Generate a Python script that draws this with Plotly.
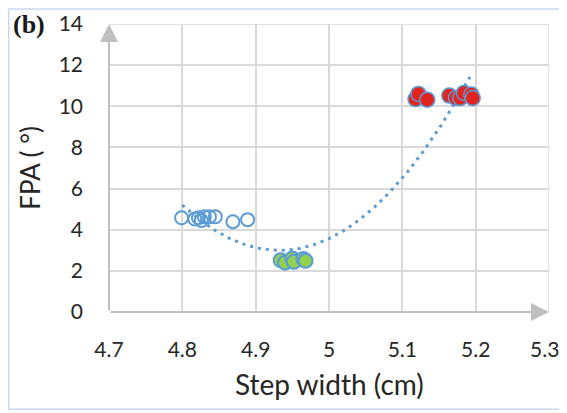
import numpy as np
import plotly.graph_objects as go

# Data
blue_x = [4.799, 4.817, 4.822, 4.826, 4.830, 4.837, 4.845, 4.869, 4.889]
blue_y = [4.58, 4.52, 4.58, 4.45, 4.63, 4.63, 4.63, 4.39, 4.49]

green_x = [4.934, 4.940, 4.950, 4.952, 4.965, 4.968]
green_y = [2.52, 2.40, 2.60, 2.44, 2.58, 2.49]

red_x = [5.118, 5.122, 5.134, 5.164, 5.173, 5.179, 5.184, 5.194, 5.196]
red_y = [10.35, 10.60, 10.32, 10.52, 10.40, 10.40, 10.65, 10.57, 10.40]

# polynomial (order 2) trendline as drawn: y = c0 + c1*(x-x0) + c2*(x-x0)^2
trend_x0 = 4.8
trend_coef = [5.2, -33.2, 125.2]
trend_range = [4.8, 5.192]

x_ticks = [4.7, 4.8, 4.9, 5.0, 5.1, 5.2, 5.3]
x_tick_text = ["4.7", "4.8", "4.9", "5", "5.1", "5.2", "5.3"]
y_ticks = [0, 2, 4, 6, 8, 10, 12, 14]

BLUE = "#5B9BD5"
GREEN = "#92D050"
RED = "#E3231E"
GRID = "#D9D9D9"
AXIS = "#BFBFBF"
TXT = "#262626"
FONT = "Lato"

tx = np.linspace(trend_range[0], trend_range[1], 200)
tu = tx - trend_x0
ty = trend_coef[0] + trend_coef[1] * tu + trend_coef[2] * tu ** 2

fig = go.Figure()
fig.add_trace(go.Scatter(x=tx, y=ty, mode="lines",
                         line=dict(color=BLUE, width=3, dash="3px,5px"),
                         hoverinfo="skip", showlegend=False))
fig.add_trace(go.Scatter(x=blue_x, y=blue_y, mode="markers",
                         marker=dict(symbol="circle-open", size=13,
                                     line=dict(color=BLUE, width=2), color=BLUE),
                         showlegend=False))
fig.add_trace(go.Scatter(x=green_x, y=green_y, mode="markers",
                         marker=dict(symbol="circle", size=14, color=GREEN,
                                     line=dict(color=BLUE, width=2)),
                         showlegend=False))
fig.add_trace(go.Scatter(x=red_x, y=red_y, mode="markers",
                         marker=dict(symbol="circle", size=15, color=RED,
                                     line=dict(color=BLUE, width=1.5)),
                         showlegend=False))

# axis lines with arrowheads
fig.add_annotation(x=x_ticks[0], y=y_ticks[-1], ax=x_ticks[0], ay=y_ticks[0],
                   xref="x", yref="y", axref="x", ayref="y",
                   showarrow=True, arrowhead=2, arrowsize=1.8, arrowwidth=2,
                   arrowcolor=AXIS, text="")
fig.add_annotation(x=x_ticks[-1], y=y_ticks[0], ax=x_ticks[0], ay=y_ticks[0],
                   xref="x", yref="y", axref="x", ayref="y",
                   showarrow=True, arrowhead=2, arrowsize=1.8, arrowwidth=2,
                   arrowcolor=AXIS, text="")

# last x tick label kept inside the page edge
fig.add_annotation(text=x_tick_text[-1], xref="x", yref="paper", x=x_ticks[-1], y=-0.127,
                   xanchor="right", yanchor="middle", xshift=12, showarrow=False,
                   font=dict(family=FONT, size=21, color=TXT))

# titles
fig.add_annotation(text="Step width (cm)", xref="paper", yref="paper", x=0.5, y=-0.251,
                   xanchor="center", yanchor="middle", showarrow=False,
                   font=dict(family=FONT, size=28, color=TXT))
fig.add_annotation(text="FPA ( °)", xref="paper", yref="paper", x=-0.18, y=0.5,
                   xanchor="center", yanchor="middle", showarrow=False, textangle=-90,
                   font=dict(family=FONT, size=26, color=TXT))
fig.add_annotation(text="<b>(b)</b>", xref="paper", yref="paper", x=-0.222, y=1.0,
                   xanchor="left", yanchor="middle", showarrow=False,
                   font=dict(family="Liberation Serif", size=26, color="#1a1a1a"))

fig.update_xaxes(range=[x_ticks[0], x_ticks[-1]], tickvals=x_ticks,
                 ticktext=x_tick_text[:-1] + [""],
                 showgrid=True, gridcolor=GRID, gridwidth=1.5, zeroline=False,
                 showline=False, ticks="", ticklabelstandoff=23, automargin=False,
                 tickfont=dict(family=FONT, size=21, color=TXT))
fig.update_yaxes(range=[y_ticks[0], y_ticks[-1]], tickvals=y_ticks,
                 showgrid=True, gridcolor=GRID, gridwidth=1.5, zeroline=False,
                 showline=False, ticks="", ticklabelstandoff=25, automargin=False,
                 tickfont=dict(family=FONT, size=21, color=TXT))

# the page body adds an 8px offset, so the figure is sized 8px smaller
fig.update_layout(width=559, height=405, template="none",
                  margin=dict(l=101, r=18, t=16, b=100.5),
                  paper_bgcolor="white", plot_bgcolor="white",
                  shapes=[
                      dict(type="rect", xref="paper", yref="paper",
                           x0=-0.228, x1=1.1, y0=-0.338, y1=1.052,
                           line=dict(color="#C6D9F1", width=1.5), layer="below"),
                      dict(type="line", xref="x", yref="y",
                           x0=x_ticks[-1], x1=x_ticks[-1], y0=y_ticks[0], y1=y_ticks[-1],
                           line=dict(color=GRID, width=1.5), layer="below"),
                      dict(type="line", xref="x", yref="y",
                           x0=x_ticks[0], x1=x_ticks[-1], y0=y_ticks[-1], y1=y_ticks[-1],
                           line=dict(color=GRID, width=1.5), layer="below"),
                  ])

fig.write_html("out.html")
